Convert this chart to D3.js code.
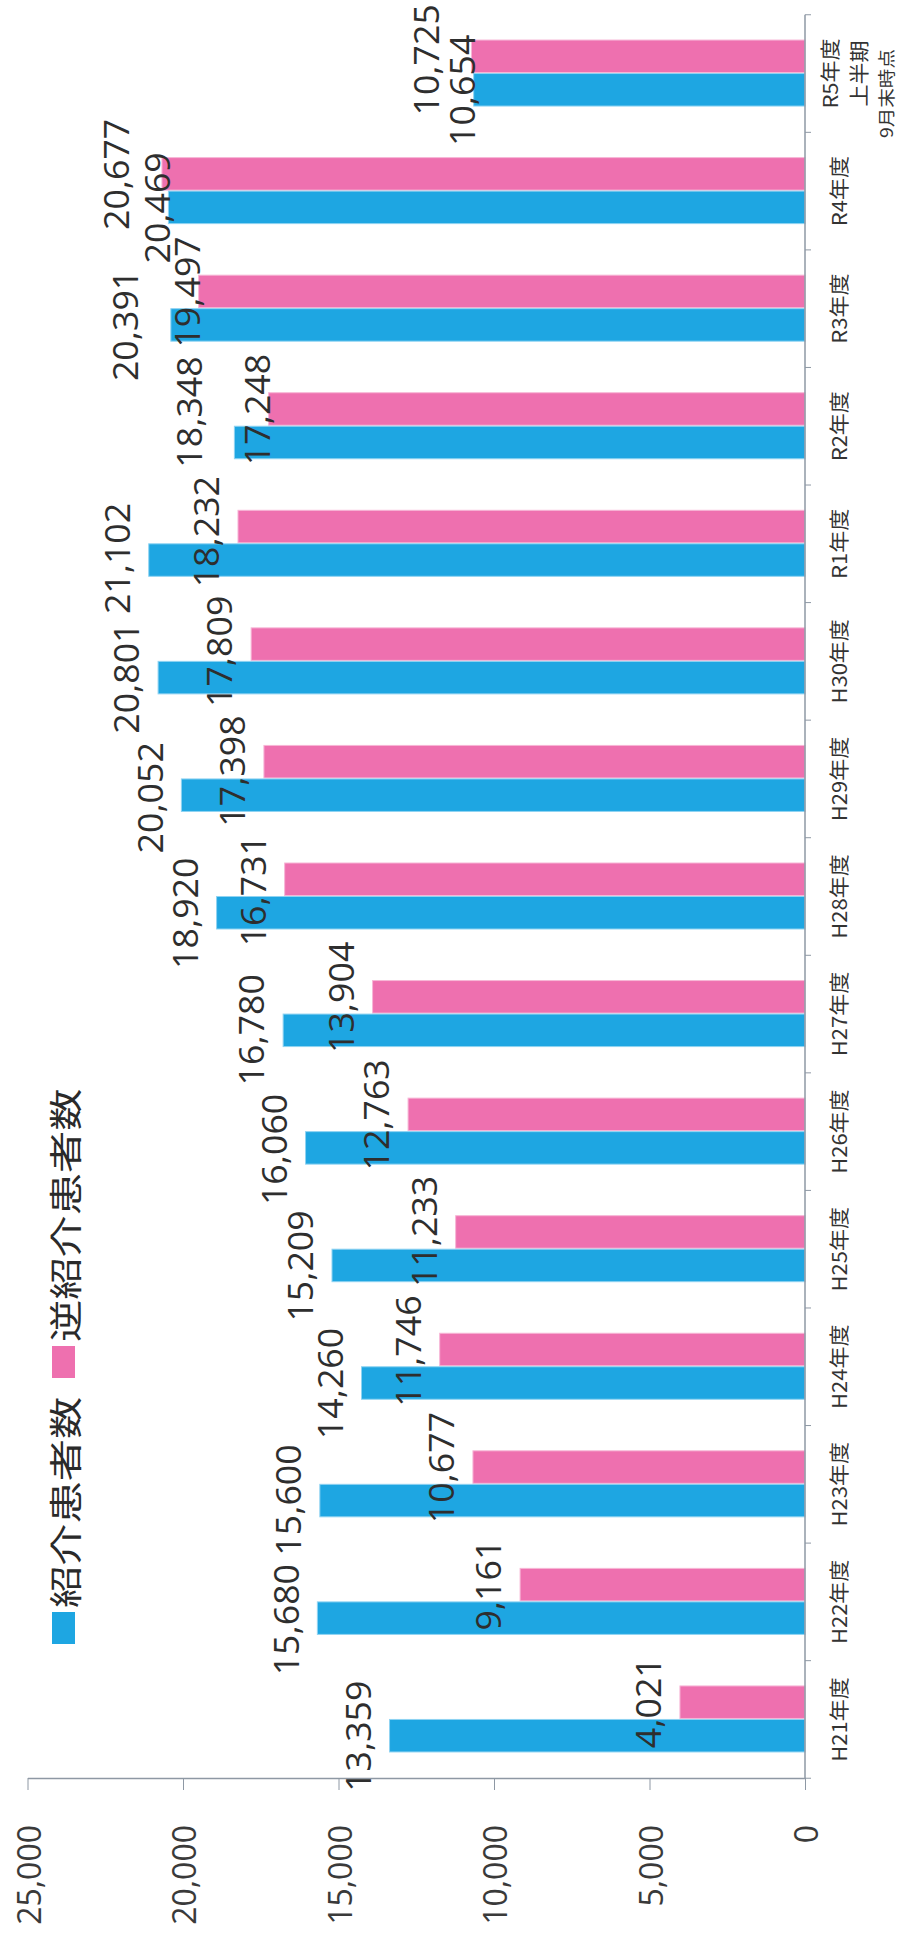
<html>
<head>
<meta charset="utf-8">
<script src="https://d3js.org/d3.v7.min.js"></script>
<style>
  body { margin: 0; background: #fff; }
  svg { display: block; }
  .axis path, .axis line { stroke: #8e98a4; }
</style>
</head>
<body>
<script>
// 紹介 / 逆紹介 患者数 (scan is rotated 90deg, so the chart is drawn sideways)
var categories = ["H21年度", "H22年度", "H23年度", "H24年度", "H25年度", "H26年度", "H27年度",
  "H28年度", "H29年度", "H30年度", "R1年度", "R2年度", "R3年度", "R4年度", "R5年度\n上半期\n9月末時点"];
var shokai = [13359, 15680, 15600, 14260, 15209, 16060, 16780, 18920, 20052, 20801, 21102, 18348, 20391, 20469, 10654];
var gyaku = [4021, 9161, 10677, 11746, 11233, 12763, 13904, 16731, 17398, 17809, 18232, 17248, 19497, 20677, 10725];
var series = ["逆紹介患者数", "紹介患者数"];
var tickValues = [0, 5000, 10000, 15000, 20000, 25000];

var W = 898, H = 1938;
var colors = { "紹介患者数": "#1ea6e2", "逆紹介患者数": "#ee70af" };
var edge = { "紹介患者数": "#8fd3f2", "逆紹介患者数": "#f7b6d6" };

var svg = d3.select("body").append("svg").attr("width", W).attr("height", H);

var x = d3.scaleLinear().domain([0, 25000]).range([805, 27.5]);
var y = d3.scaleBand().domain(categories).range([1778, 15]).paddingInner(0.43).paddingOuter(0.213);
var ySub = d3.scaleBand().domain(series).range([0, y.bandwidth()]);

// rotated (bottom-to-top) text, optional stretch along the page y direction
function rotText(g, px, py, txt, size, anchor, stretch, fill, family) {
  return g.append("text")
    .attr("transform", "translate(" + px + "," + py + ") scale(1," + (stretch || 1) + ") rotate(-90)")
    .attr("text-anchor", anchor)
    .attr("dominant-baseline", "central")
    .style("font-family", family || "'Open Sans', 'Noto Sans', sans-serif")
    .style("font-size", size + "px")
    .style("fill", fill || "#333")
    .text(txt);
}

var rows = categories.map(function(c, i) {
  return { cat: c, vals: [{ s: "逆紹介患者数", v: gyaku[i] }, { s: "紹介患者数", v: shokai[i] }] };
});

// bars
var groups = svg.selectAll("g.cat").data(rows).enter().append("g")
  .attr("class", "cat")
  .attr("transform", function(d) { return "translate(0," + y(d.cat) + ")"; });

groups.selectAll("rect").data(function(d) { return d.vals; }).enter().append("rect")
  .attr("x", function(d) { return x(d.v); })
  .attr("y", function(d) { return ySub(d.s); })
  .attr("width", function(d) { return x(0) - x(d.v); })
  .attr("height", ySub.bandwidth() - 1)
  .style("fill", function(d) { return colors[d.s]; })
  .style("stroke", function(d) { return edge[d.s]; })
  .style("stroke-width", 1);

// value axis (bottom)
var xAxis = svg.append("g").attr("class", "axis")
  .attr("transform", "translate(0,1778)")
  .call(d3.axisBottom(x).tickValues(tickValues).tickSize(12).tickSizeOuter(0).tickFormat(d3.format(",")));
xAxis.select(".domain").style("stroke-width", 1.5);
xAxis.selectAll(".tick text")
  .attr("x", 0).attr("y", 0).attr("dy", null)
  .attr("transform", "translate(0,47) rotate(-90)")
  .attr("text-anchor", "end")
  .attr("dominant-baseline", "central")
  .style("font-family", "'Open Sans', sans-serif")
  .style("font-size", "32px")
  .style("fill", "#3a3a3a");

// category axis (right side)
var half = y.step() * y.paddingInner() / 2;
var yTop = y(categories[categories.length - 1]) - half;
var yBot = y(categories[0]) + y.bandwidth() + half;
var catAxis = svg.append("g").attr("class", "axis");
catAxis.append("line").attr("x1", x(0)).attr("x2", x(0)).attr("y1", yTop).attr("y2", yBot)
  .style("stroke-width", 1.5);
var bounds = categories.map(function(c) { return y(c) - half; }).concat([yBot]);
catAxis.selectAll("line.tk").data(bounds).enter().append("line")
  .attr("class", "tk")
  .attr("x1", x(0)).attr("x2", x(0) + 6)
  .attr("y1", function(d) { return d; }).attr("y2", function(d) { return d; });

categories.forEach(function(c) {
  var lines = c.split("\n");
  var cy = y(c) + y.bandwidth() / 2;
  if (lines.length === 1) {
    rotText(svg, 838, cy, c, 20, "middle", 1.1, "#333", "'Noto Sans CJK JP', sans-serif");
  } else {
    rotText(svg, 829, cy, lines[0], 20, "middle", 1.1, "#333", "'Noto Sans CJK JP', sans-serif");
    rotText(svg, 858, cy, lines[1], 20, "middle", 1.1, "#333", "'Noto Sans CJK JP', sans-serif");
    rotText(svg, 886, cy + 20, lines[2], 17, "middle", 1.15, "#333", "'Noto Sans CJK JP', sans-serif");
  }
});

// data labels: just outside the bar end; when a pair in one band would collide,
// the longer bar's label steps further out and the shorter one sits at its bar end
var labelSize = 34, labelStretch = 1.05, capH = 24;
var labels = [];
rows.forEach(function(r) {
  var labs = r.vals.map(function(d) {
    var t = d3.format(",")(d.v);
    return { t: t, end: x(d.v), cx: x(d.v) - 32,
      cy: y(r.cat) + ySub(d.s) + ySub.bandwidth() / 2,
      len: t.length * labelSize * 0.54 * labelStretch };
  });
  var p = labs[0], b = labs[1];
  if (Math.abs(p.cx - b.cx) < capH + 12) {
    var longer = p.end < b.end ? p : b, shorter = longer === p ? b : p;
    longer.cx = longer.end - 46;
    shorter.cx = shorter.end - 12;
  }
  labels.push(p, b);
});
// any remaining overlaps: push apart along y
for (var it = 0; it < 60; it++) {
  for (var i = 0; i < labels.length; i++) {
    for (var j = i + 1; j < labels.length; j++) {
      var a = labels[i], c = labels[j];
      if (Math.abs(a.cx - c.cx) >= capH + 2) continue;
      var need = (a.len + c.len) / 2 + 4 - Math.abs(a.cy - c.cy);
      if (need <= 0) continue;
      var up = a.cy < c.cy ? a : c, dn = a.cy < c.cy ? c : a;
      up.cy -= need / 2; dn.cy += need / 2;
    }
  }
  labels.forEach(function(l) { l.cy = Math.max(l.cy, l.len / 2 + 2); });
}
labels.forEach(function(l) {
  rotText(svg, l.cx, l.cy, l.t, labelSize, "middle", labelStretch, "#2e2e2e");
});

// legend
var legend = [
  { s: "紹介患者数", y0: 1612 },
  { s: "逆紹介患者数", y0: 1346 }
];
legend.forEach(function(l) {
  svg.append("rect").attr("x", 52).attr("y", l.y0).attr("width", 23).attr("height", 32)
    .style("fill", colors[l.s]);
  rotText(svg, 64, l.y0 - 4, l.s, 33, "start", 1.28, "#2a2a2a", "'Noto Sans CJK JP', sans-serif");
});
</script>
</body>
</html>
